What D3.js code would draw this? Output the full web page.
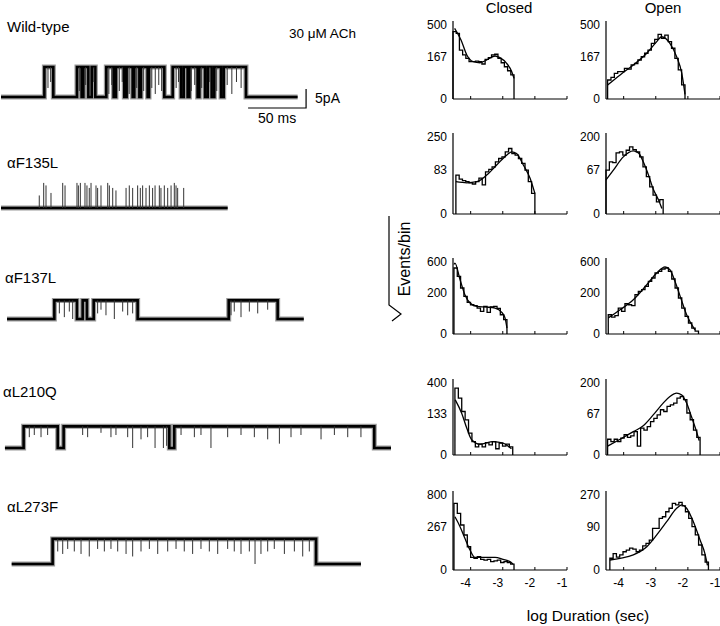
<!DOCTYPE html>
<html><head><meta charset="utf-8">
<script src="https://cdn.jsdelivr.net/npm/d3@7"></script>
<style>
body{margin:0;background:#fff}
svg{display:block}
text{font-family:"Liberation Sans",Arial,Helvetica,sans-serif;fill:#000}
</style>
</head><body>
<svg id="c" width="720" height="626"></svg>
<script>
// ---------------- DATA ----------------
// Single-channel traces (times in ms, amplitudes in pA)
const traceNames = ["Wild-type", "\u03b1F135L", "\u03b1F137L", "\u03b1L210Q", "\u03b1L273F"];
const traceSpan = [[0, 255.7], [0, 195.4], [5.2, 261], [3.4, 336.2], [9.2, 310.3]];
const traceAmp = [7.9, 6.6, 4.9, 5.7, 6.6];
const wtOpen = [[37.4,45.1],[65.5,69.5],[71,75.3],[78.2,81.3],[90.8,97.1],[99.1,106.3],[108.3,113.5],[114.9,119.3],[120.7,126.4],[127.6,140.8],[148,155.2],[157.5,160.9],[162.4,169.5],[171,175.9],[178.2,181.6],[183.9,189.7],[192,211.2]];
const f135Open = [];
const f137Open = [[46,65.5],[70.4,74.1],[79.9,117.8],[196.3,238.5]];
const l210Open = [[19.5,48.9],[54,145.1],[149.4,321.8]];
const l273Open = [[44.5,271.6]];
// brief events [time ms, fraction of amplitude]
const wtFlick = [[40.5,.7],[42.8,.5],[67.5,.8],[73,.6],[80,.5],[93,.9],[95.5,.6],[102,.8],[104.5,.5],[110.5,.9],[117,.7],[123,.8],[130,.7],[133,.9],[136,.6],[138.5,.8],[151,.7],[153,.5],[164,.8],[167,.6],[173,.7],[180,.5],[186,.8],[195,.6],[199,.9],[203,.5],[207,.7]];
const f135Flick = [[33,.5],[36.8,1],[38.8,.9],[43.1,.6],[53.2,1],[55.2,.9],[65.5,1],[66.7,.9],[68.4,1],[72.4,1],[74.1,.9],[76.1,.8],[77.6,1],[81.9,.9],[83.3,.8],[86.2,.9],[92,1],[93.4,.9],[96.3,.8],[99.1,.7],[107.8,.8],[110.6,.9],[113.5,.8],[117.8,.9],[120.1,.8],[122.1,.9],[125,.8],[127.9,.9],[130.7,.8],[132.8,.9],[136.5,.9],[137.9,.8],[140.8,.9],[143.7,.8],[146.6,.9],[149.4,1],[150.9,.9],[152.3,.8],[157.5,.8]];
const f137Flick = [[50.3,.7],[54.6,.9],[58.9,.6],[61.8,1],[83.3,.7],[86.2,.5],[90.5,.8],[97.7,1],[104.9,.6],[109.2,.8],[113.5,.7],[198.3,.8],[201.1,.6],[206.9,.9],[214.1,.6],[221.3,.7],[229.9,.5]];
const l210Flick = [[24.4,.5],[28.7,.4],[34.5,.5],[40.2,.4],[70.4,.4],[74.7,.5],[86.2,.3],[94.8,.5],[99.1,.4],[109.2,.5],[113.5,1],[120.7,.6],[126.4,.5],[132.8,1],[140,1],[142.8,.9],[155.2,.4],[166.7,.5],[172.4,.4],[181,1],[195.4,.5],[206.9,.4],[218.4,.5],[229.9,.6],[240,.8],[250,.5],[258.6,.4],[275.9,.6],[287.4,.4],[298.9,.5],[310.3,.5]];
const l273Flick = [[48.9,.5],[53.2,.6],[57.5,.4],[63.2,.5],[69,.6],[76.1,.7],[83.3,.4],[89.1,.5],[94.8,.4],[100.6,.5],[107.8,.6],[113.5,.7],[120.7,.5],[127.9,.4],[135.1,.6],[143.7,.5],[150.9,.4],[158,.5],[165.2,.6],[172.4,.4],[179.6,.5],[186.8,.6],[195.4,.4],[201.1,.5],[206.9,.6],[214.1,.5],[219,1],[224.1,.6],[229.9,.5],[235.6,.4],[244.3,.6],[252.9,.5],[260.1,.7],[265.8,.5]];
const traceOpen = [wtOpen, f135Open, f137Open, l210Open, l273Open];
const traceFlick = [wtFlick, f135Flick, f137Flick, l210Flick, l273Flick];
const scaleBarTime = [213, 50];   // ms start, length
const scaleBarAmp = 5;            // pA
const agonist = "30 \u03bcM ACh";

// Dwell-time histograms (log10 duration in s, counts on sqrt axis)
const closedRange = [[-4.55,-2.65],[-4.46,-2.0],[-4.52,-2.87],[-4.49,-2.69],[-4.52,-2.65]];
const openRange   = [[-4.5,-2.09],[-4.55,-2.77],[-4.48,-1.67],[-4.5,-1.62],[-4.43,-1.36]];
const closedMax = [500, 250, 600, 400, 800];
const openMax   = [500, 200, 600, 200, 270];
const closedTicks = [[0,167,500],[0,83,250],[0,200,600],[0,133,400],[0,267,800]];
const openTicks   = [[0,167,500],[0,67,200],[0,200,600],[0,67,200],[0,90,270]];
const logTicks = [-4, -3, -2, -1];

const wtClosedBins = [414,394,219,177,150,127,127,131,127,112,143,156,177,183,150,120,95,73,53];
const wtClosedFit = [[-4.5,456],[-4.3,318],[-4.12,177],[-3.92,127],[-3.71,120],[-3.5,139],[-3.24,169],[-3.09,156],[-2.88,116],[-2.72,68],[-2.65,39]];
const wtOpenBins = [33,43,60,68,68,86,82,106,115,139,163,191,219,283,325,382,336,373,300,235,151,77,18];
const wtOpenFit = [[-4.5,18],[-4.11,53],[-3.7,106],[-3.28,191],[-2.97,300],[-2.82,354],[-2.56,283],[-2.35,163],[-2.19,60],[-2.09,2]];

const f135ClosedBins = [64,51,47,44,41,38,44,54,36,75,84,94,115,130,138,163,181,154,146,130,108,81,44,18];
const f135ClosedFit = [[-4.46,44],[-4.12,41],[-3.81,44],[-3.5,64],[-3.19,101],[-2.88,146],[-2.72,163],[-2.57,154],[-2.36,101],[-2.15,54],[-2.0,18]];
const f135OpenBins = [65,92,89,126,130,117,137,152,140,130,110,75,47,25,12,5,7];
const f135OpenFit = [[-4.55,39],[-4.32,65],[-4.01,110],[-3.7,134],[-3.54,126],[-3.39,92],[-3.23,52],[-3.08,21],[-2.92,7],[-2.81,1]];

const f137ClosedBins = [504,384,245,164,116,99,93,78,59,88,54,85,88,76,43,24];
const f137ClosedFit = [[-4.52,560],[-4.49,583],[-4.33,341],[-4.18,179],[-4.02,111],[-3.81,88],[-3.5,84],[-3.24,78],[-3.03,54],[-2.93,30],[-2.87,4]];
const f137OpenBins = [43,33,39,78,59,106,99,93,179,210,227,262,320,363,431,454,489,504,454,350,245,150,78,36,14,4,1];
const f137OpenFit = [[-4.48,30],[-4.11,68],[-3.7,136],[-3.28,281],[-2.97,431],[-2.71,520],[-2.56,478],[-2.4,320],[-2.24,164],[-2.04,43],[-1.78,2]];

const l210ClosedBins = [346,250,146,95,37,14,5,9,5,12,8,14,3,11,6,9,5];
const l210ClosedFit = [[-4.48,235],[-4.28,135],[-4.12,55],[-3.97,18],[-3.71,9],[-3.3,14],[-2.99,11],[-2.73,3]];
const l210OpenBins = [9.6,7,9.6,7,11,16,12,14,21,3,28,24,31,43,52,62,79,73,91,97,104,125,132,118,68,48,24,12];
const l210OpenFit = [[-4.5,3],[-4.11,9.6],[-3.7,21],[-3.39,33],[-3.08,62],[-2.77,104],[-2.56,132],[-2.35,148],[-2.2,140],[-2.04,104],[-1.89,57],[-1.73,21],[-1.65,8]];

const l273ClosedBins = [632,457,288,174,77,23,19,25,16,14,16,10,12,14,8,10,8,5];
const l273ClosedFit = [[-4.49,404],[-4.33,267],[-4.18,143],[-4.02,57],[-3.87,23],[-3.5,23],[-3.24,23],[-2.99,16],[-2.78,10],[-2.68,5]];
const l273OpenBins = [6.6,13,8,11,16,19,23,21,16,19,28,34,43,83,83,128,136,163,183,213,203,220,197,163,128,90,59,30,11,3];
const l273OpenFit = [[-4.43,4.8],[-4.11,6.6],[-3.7,11],[-3.28,26],[-2.97,59],[-2.66,112],[-2.35,183],[-2.19,203],[-2.04,183],[-1.83,112],[-1.62,43],[-1.47,13],[-1.39,1]];

const closedBins = [wtClosedBins, f135ClosedBins, f137ClosedBins, l210ClosedBins, l273ClosedBins];
const closedFit  = [wtClosedFit, f135ClosedFit, f137ClosedFit, l210ClosedFit, l273ClosedFit];
const openBins   = [wtOpenBins, f135OpenBins, f137OpenBins, l210OpenBins, l273OpenBins];
const openFit    = [wtOpenFit, f135OpenFit, f137OpenFit, l210OpenFit, l273OpenFit];

// ---------------- LAYOUT ----------------
const svg = d3.select("#c");
const traceBase = [97, 208, 319, 448, 564];
const traceLabel = [[7,32],[7,168],[5,283],[3,397],[7,512]];
const rowBottom = [99, 214, 334, 455, 570];
const rowTop    = [25, 137, 262, 383, 495];
const colX = {closed: [453, 567], open: [606, 720]};

const tX = d3.scaleLinear().domain([0, 50]).range([1, 59]);
const ampY = d3.scaleLinear().domain([0, 5]).range([0, 19]);

// ---------------- TRACES ----------------
traceNames.forEach((name, i) => {
  const base = traceBase[i];
  const amp = ampY(traceAmp[i]);
  const lev = f => base - f * amp;
  const pts = [[traceSpan[i][0], 0]];
  traceOpen[i].forEach(([a, b]) => { pts.push([a, 0], [a, 1], [b, 1], [b, 0]); });
  pts.push([traceSpan[i][1], 0]);
  const line = d3.line().x(d => tX(d[0])).y(d => lev(d[1]));
  const g = svg.append("g");
  g.append("path").attr("d", line(pts)).attr("fill", "none").attr("stroke", "#9a9a9a").attr("stroke-width", 5);
  g.append("path").attr("d", line(pts)).attr("fill", "none").attr("stroke", "#000").attr("stroke-width", 2.6);
  const isOpen = t => traceOpen[i].some(([a, b]) => t > a && t < b);
  g.selectAll("line.f").data(traceFlick[i]).join("line")
    .attr("x1", d => tX(d[0])).attr("x2", d => tX(d[0]))
    .attr("y1", d => isOpen(d[0]) ? lev(1) : lev(0))
    .attr("y2", d => isOpen(d[0]) ? lev(1 - d[1]) : lev(d[1]))
    .attr("stroke", "#333").attr("stroke-width", 1);
  svg.append("text").attr("x", traceLabel[i][0]).attr("y", traceLabel[i][1])
    .attr("font-size", 15).text(name);
});

svg.append("text").attr("x", 289).attr("y", 38).attr("font-size", 13.5).text(agonist);

// scale bar
const sbX0 = tX(scaleBarTime[0]), sbX1 = tX(scaleBarTime[0] + scaleBarTime[1]);
const sbY = 108;
svg.append("path")
  .attr("d", `M${sbX0},${sbY}H${sbX1}V${sbY - ampY(scaleBarAmp)}`)
  .attr("fill", "none").attr("stroke", "#000").attr("stroke-width", 1.2);
svg.append("text").attr("x", sbX1 + 9).attr("y", sbY - 5).attr("font-size", 14).text(scaleBarAmp + "pA");
svg.append("text").attr("x", (sbX0 + sbX1) / 2).attr("y", 123).attr("text-anchor", "middle")
  .attr("font-size", 14).text(scaleBarTime[1] + " ms");

// ---------------- HISTOGRAMS ----------------
function panel(row, col, range, bins, fit, ymax, ticks) {
  const xr = colX[col];
  const x = d3.scaleLinear().domain([-4.55, -1]).range(xr);
  const y = d3.scaleSqrt().domain([0, ymax]).range([rowBottom[row], rowTop[row]]);
  const g = svg.append("g");
  g.append("line").attr("x1", xr[0]).attr("x2", xr[0]).attr("y1", rowBottom[row]).attr("y2", rowTop[row] - 4)
    .attr("stroke", "#000").attr("stroke-width", 1.2);
  g.append("line").attr("x1", xr[0]).attr("x2", xr[1]).attr("y1", rowBottom[row]).attr("y2", rowBottom[row])
    .attr("stroke", "#000").attr("stroke-width", 1.2);
  g.selectAll("line.xt").data(logTicks).join("line")
    .attr("x1", d => x(d)).attr("x2", d => x(d))
    .attr("y1", rowBottom[row]).attr("y2", rowBottom[row] - 3)
    .attr("stroke", "#000").attr("stroke-width", 1);
  g.selectAll("text.yt").data(ticks).join("text")
    .attr("x", xr[0] - 6).attr("y", d => y(d)).attr("dy", "0.36em")
    .attr("text-anchor", "end").attr("font-size", 12).text(d => d);
  if (row === 4) {
    g.selectAll("text.xl").data(logTicks).join("text")
      .attr("x", d => x(d) - 5).attr("y", rowBottom[row] + 17)
      .attr("text-anchor", "middle").attr("font-size", 12).text(d => "-" + Math.abs(d));
  }
  const w = (range[1] - range[0]) / bins.length;
  const pts = [[range[0], 0]];
  bins.forEach((v, k) => { pts.push([range[0] + k * w, v], [range[0] + (k + 1) * w, v]); });
  pts.push([range[1], 0]);
  g.append("path").attr("d", d3.line().x(d => x(d[0])).y(d => y(d[1]))(pts))
    .attr("fill", "none").attr("stroke", "#000").attr("stroke-width", 1.3);
  g.append("path").attr("d", d3.line().curve(d3.curveMonotoneX).x(d => x(d[0])).y(d => y(d[1]))(fit))
    .attr("fill", "none").attr("stroke", "#000").attr("stroke-width", 1.3);
}
for (let r = 0; r < 5; r++) {
  panel(r, "closed", closedRange[r], closedBins[r], closedFit[r], closedMax[r], closedTicks[r]);
  panel(r, "open", openRange[r], openBins[r], openFit[r], openMax[r], openTicks[r]);
}

svg.append("text").attr("x", 509).attr("y", 13).attr("text-anchor", "middle").attr("font-size", 15).text("Closed");
svg.append("text").attr("x", 663).attr("y", 13).attr("text-anchor", "middle").attr("font-size", 15).text("Open");

svg.append("text").attr("transform", "translate(410,259) rotate(-90)")
  .attr("text-anchor", "middle").attr("font-size", 16).text("Events/bin");
svg.append("path").attr("d", "M389,216V305L401,314L392,321")
  .attr("fill", "none").attr("stroke", "#000").attr("stroke-width", 1.2);

svg.append("text").attr("x", 588).attr("y", 621).attr("text-anchor", "middle").attr("font-size", 15.5)
  .text("log Duration (sec)");
</script>
</body></html>
